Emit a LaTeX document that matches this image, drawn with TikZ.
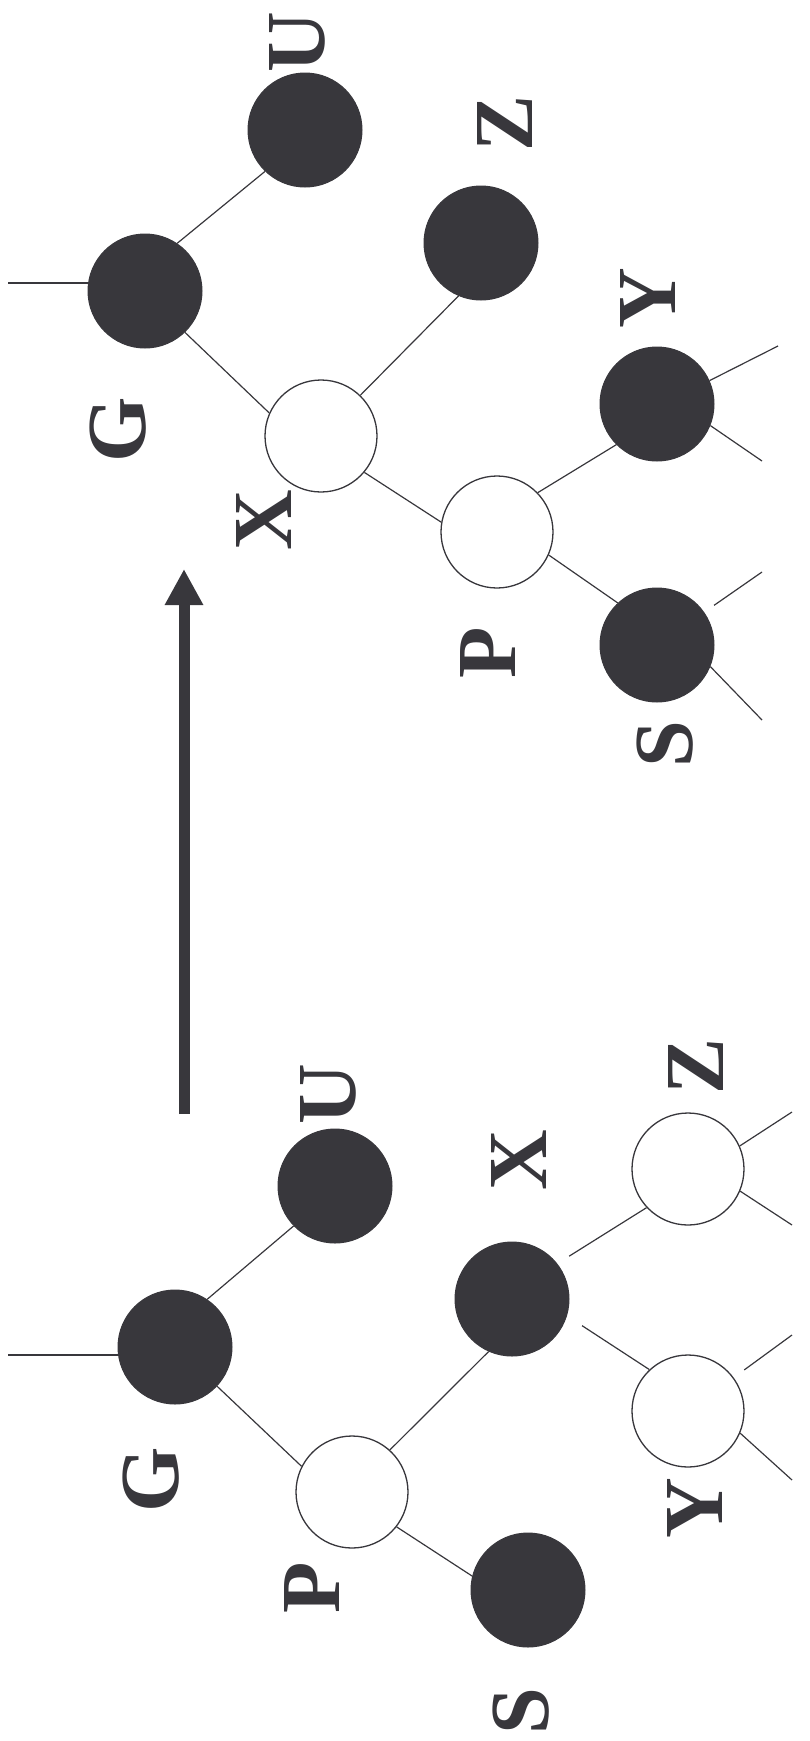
\documentclass[tikz,border=0pt]{standalone}
\usepackage{fontspec}
\setmainfont{Liberation Serif}
\usetikzlibrary{arrows.meta}
\definecolor{ink}{RGB}{56,55,60}
\begin{document}
\begin{tikzpicture}[x=1pt,y=-1pt,
  blk/.style={circle,fill=ink,draw=ink,line width=1pt,minimum size=114pt,inner sep=0pt},
  wht/.style={circle,fill=white,draw=ink,line width=1.3pt,minimum size=112pt,inner sep=0pt},
  conn/.style={draw=ink,line width=1.2pt},
  lbl/.style={rotate=90,text=ink,font=\fontsize{84}{84}\selectfont\bfseries,inner sep=0pt}]
\useasboundingbox (0,0) rectangle (809,1741);
% ---------- top tree ----------
\node[blk] (G1) at (145,291) {};
\node[blk] (U1) at (305,130) {};
\node[wht] (X1) at (321,436) {};
\node[blk] (Z1) at (481,243) {};
\node[wht] (P1) at (497,532) {};
\node[blk] (Y1) at (657,404) {};
\node[blk] (S1) at (657,645) {};
\coordinate (l1) at (8,283);
\coordinate (y1a) at (778,346);
\coordinate (y1b) at (762,461);
\coordinate (s1a) at (762,572);
\coordinate (s1b) at (762,720);
\draw[conn] (l1) -- (G1.west |- l1);
\draw[conn] (G1.56) -- (U1.-134);
\draw[conn] (G1.-46) -- (X1.156);
\draw[conn] (X1.46) -- (Z1.-113);
\draw[conn] (X1.-40) -- (P1.170);
\draw[conn] (P1.44) -- (Y1.-135);
\draw[conn] (P1.-24) -- (S1.133);
\draw[conn] (Y1.24) -- (y1a);
\draw[conn] (Y1.-22) -- (y1b);
\draw[conn,shorten <=12pt] (S1) -- (s1a);
\draw[conn] (S1.-22) -- (s1b);
\node[lbl] (tU1) at (297,42) {U};
\node[lbl] (tZ1) at (505,123) {Z};
\node[lbl] (tG1) at (118,430) {G};
\node[lbl] (tY1) at (648,298) {Y};
\node[lbl] (tX1) at (264,520) {X};
\node[lbl] (tP1) at (488,653) {P};
\node[lbl] (tS1) at (665,744) {S};
% ---------- arrow ----------
\coordinate (a0) at (184,1114);
\coordinate (a1) at (184,569);
\draw[ink,line width=11pt,-{Triangle[length=36pt,width=36pt]}] (a0) -- (a1);
% ---------- bottom tree ----------
\node[blk] (G2) at (175,1347) {};
\node[blk] (U2) at (335,1186) {};
\node[wht] (P2) at (352,1492) {};
\node[blk] (S2) at (528,1590) {};
\node[blk] (X2) at (512,1299) {};
\node[wht] (Z2) at (688,1169) {};
\node[wht] (Y2) at (688,1411) {};
\coordinate (l2) at (8,1355);
\coordinate (z2a) at (792,1112);
\coordinate (z2b) at (792,1225);
\coordinate (y2a) at (792,1335);
\coordinate (y2b) at (792,1480);
\draw[conn] (l2) -- (G2.west |- l2);
\draw[conn] (G2.56) -- (U2.-136);
\draw[conn] (G2.-43) -- (P2.153);
\draw[conn] (P2.48) -- (X2.-114);
\draw[conn] (P2.-38) -- (S2.166);
\draw[conn,shorten <=14pt] (X2.38) -- (Z2.-137);
\draw[conn,shorten <=18pt] (X2.-17) -- (Y2.133);
\draw[conn] (Z2.24) -- (z2a);
\draw[conn] (Z2.-23) -- (z2b);
\draw[conn,shorten <=13pt] (Y2) -- (y2a);
\draw[conn] (Y2.-23) -- (y2b);
\node[lbl] (tU2) at (328,1094) {U};
\node[lbl] (tX2) at (519,1160) {X};
\node[lbl] (tZ2) at (696,1066) {Z};
\node[lbl] (tG2) at (151,1480) {G};
\node[lbl] (tP2) at (312,1588) {P};
\node[lbl] (tY2) at (695,1508) {Y};
\node[lbl] (tS2) at (521,1711) {S};
\end{tikzpicture}
\end{document}
